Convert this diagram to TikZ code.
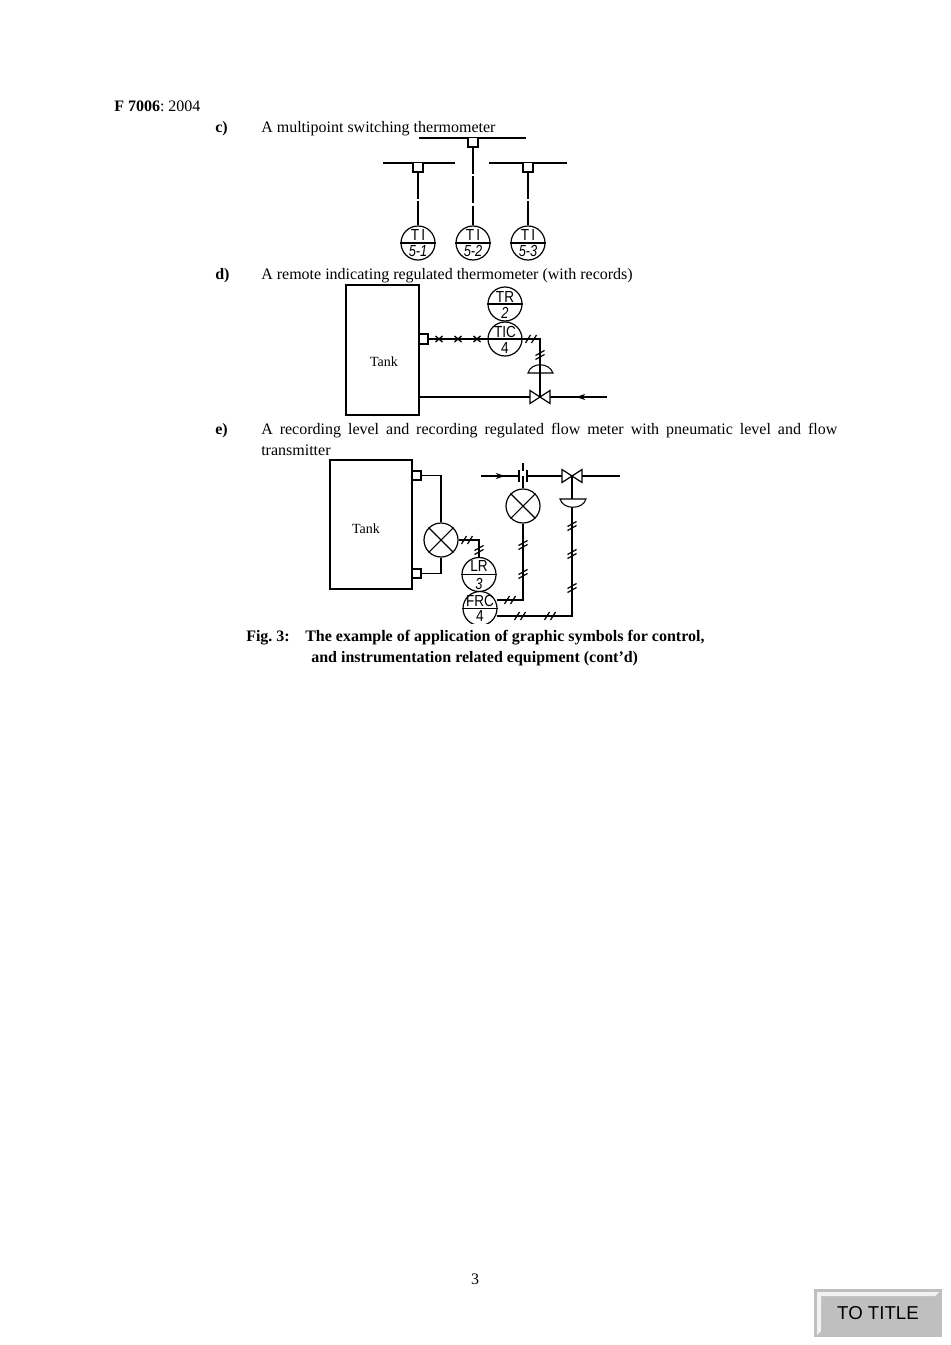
\documentclass[tikz,border=0pt]{standalone}
\usepackage{fontspec}
\setmainfont{Liberation Serif}
\newfontfamily\tagfont{Liberation Sans}
\usepackage{tkz-euclide}
\usetikzlibrary{calc,arrows.meta}
\frenchspacing

\tikzset{
  pipe/.style={line width=.8pt},
  sigline/.style={line width=.8pt,dash pattern=on 20pt off 2pt},
  inst/.style={circle,draw,line width=.9pt,minimum size=25.5pt,inner sep=0pt,fill=white},
  tagtop/.style={font=\tagfont\fontsize{12}{12}\selectfont,inner sep=0pt,xscale=.85},
  tagnum/.style={font=\tagfont\itshape\fontsize{12}{12}\selectfont,inner sep=0pt,xscale=.8},
  txt/.style={anchor=base west,inner sep=0pt,font=\fontsize{12}{15.75}\selectfont},
  pics/dslash/.style={code={
    \draw[line width=.9pt] (-5.5,4) -- (-.5,-4);
    \draw[line width=.9pt] (.5,4) -- (5.5,-4);}},
  pics/vslash/.style={code={
    \draw[line width=.9pt] (-4.5,.5) -- (4.5,-4.5);
    \draw[line width=.9pt] (-4.5,4.5) -- (4.5,-.5);}},
  pics/xmark/.style={code={
    \draw[line width=1pt] (-3.5,-3) -- (3.5,3) (-3.5,3) -- (3.5,-3);}},
  pics/valve/.style={code={
    \draw[line width=.9pt,fill=white] (-10,-6.5) -- (10,6.5) -- (10,-6.5) -- (-10,6.5) -- cycle;}}
}

\begin{document}
\begin{tikzpicture}[x=.75pt,y=-.75pt]
\useasboundingbox (0,0) rectangle (950,1345);

% points of c)
\tkzDefPoint(419,138){Ca} \tkzDefPoint(526,138){Cb}
\tkzDefPoint(383,163){Cc} \tkzDefPoint(455,163){Cd}
\tkzDefPoint(489,163){Ce} \tkzDefPoint(567,163){Cf}

\draw[pipe] (Ca) -- (Cb);
\draw[pipe] (Cc) -- (Cd);
\draw[pipe] (Ce) -- (Cf);

\foreach \nm/\xs/\ys/\lbl in {TIa/418/163/5-1,TIb/473/138/5-2,TIc/528/163/5-3}{
  \node[inst] (\nm) at (\xs,243) {};
  \coordinate (\nm s) at (\xs,\ys);
  \draw[pipe,fill=white] ($(\nm s)+(-5,0)$) -- ++(0,9) -- ++(10,0) -- ++(0,-9);
  \draw[sigline] ($(\nm s)+(0,9)$) -- (\nm.north);
  \draw[pipe] (\nm.west) -- (\nm.east);
  \node[tagtop] at ($(\nm)+(0,-8)$) {T\,I};
  \node[tagnum] at ($(\nm)+(0,8)$) {\lbl};
}

% points of d)
\tkzDefPoint(346,285){Da} \tkzDefPoint(419,415){Db}
\tkzDefPoint(428,339){Dc} \tkzDefPoint(540,339){Dd}
\tkzDefPoint(540,373){De} \tkzDefPoint(540,397){Df}
\tkzDefPoint(419,397){Dg} \tkzDefPoint(607,397){Dh}
\tkzDefPoint(576,397){Di}

\draw[pipe] (Da) rectangle (Db);
\node (tankd) at (384,362) [font=\fontsize{10.5}{12}\selectfont] {Tank};
\draw[pipe] (419,334) rectangle (428,344);
\draw[pipe] (Dc) -- (Dd) -- (De) -- (Df);
\draw[pipe] (Dg) -- (Df) -- (Dh);
\draw[pipe,-{Stealth[length=7pt,width=4.5pt]}] (Dh) -- (Di);

\draw[pipe] (528,373) .. controls (531,362) and (549,362) .. (553,373) -- cycle;
\node[inst] (TR) at (505,304) {};
\node[inst] (TIC) at (505,339) {};
\draw[pipe] (TR.west) -- (TR.east);
\draw[pipe] (TIC.west) -- (TIC.east);
\node[tagtop] (TRt) at (505,296.5) {TR};
\node[tagnum] (TRn) at (505,313) {2};
\node[tagtop] (TICt) at (505,331.5) {TIC};
\node[tagtop] (TICn) at (505,348) {4};

\foreach \px in {439,458,477}
  \path (\px,339) pic {xmark};
\path (531,339) pic {dslash};
\path (540,355) pic {vslash};
\path (Df) pic {valve};

% points of e)
\tkzDefPoint(330,460){Ea} \tkzDefPoint(412,589){Eb}
\tkzDefPoint(421,475.5){Ec} \tkzDefPoint(441,475.5){Ed}
\tkzDefPoint(421,573.5){Ee} \tkzDefPoint(441,573.5){Ef}
\tkzDefPoint(479,540){Eg}
\tkzDefPoint(523,600){Eh} \tkzDefPoint(572,616){Ei}
\tkzDefPoint(572,476){Ej}
\tkzDefPoint(481,476){Ek} \tkzDefPoint(519,476){El}
\tkzDefPoint(527,476){Em} \tkzDefPoint(620,476){En}
\tkzDefPoint(505,476){Eo}

\draw[pipe] (Ea) rectangle (Eb);
\node (tanke) at (366,529) [font=\fontsize{10.5}{12}\selectfont] {Tank};
\draw[pipe] (412,471) rectangle (421,480);
\draw[pipe] (412,569) rectangle (421,578);

\node[inst] (XL) at (441,540) {};
\node[inst] (XF) at (523,506) {};
\foreach \nm in {XL,XF}
  \draw[pipe] (\nm.north west) -- (\nm.south east) (\nm.north east) -- (\nm.south west);
\draw[pipe] (Ec) -- (Ed) -- (XL.north);
\draw[pipe] (Ee) -- (Ef) -- (XL.south);

\node[inst] (LR) at (479,574.5) {};
\begin{scope}
\clip (455,590) rectangle (505,623.5);
\node[inst] (FRC) at (480,608.5) {};
\end{scope}
\draw[pipe] (LR.west) -- (LR.east);
\draw[pipe] (FRC.west) -- (FRC.east);
\node[tagtop] (LRt) at (479,566) {LR};
\node[tagnum] (LRn) at (479,583.5) {3};
\node[tagtop] (FRCt) at (480,600.5) {FRC};
\node[tagtop] (FRCn) at (480,616) {4};

\draw[pipe] (XL.east) -- (Eg) -- (LR.north);
\draw[pipe] (497,600) -- (Eh) -- (XF.south);
\draw[pipe] (497,616) -- (Ei) -- (Ej);

\draw[pipe,-{Stealth[length=7pt,width=4.5pt]}] (Ek) -- (Eo);
\draw[pipe] (Ek) -- (El);
\draw[pipe] (Em) -- (En);
\draw[pipe] (519,470) -- (519,482);
\draw[pipe] (527,470) -- (527,482);
\draw[pipe] (523,463) -- (523,471) (523,476) -- (XF.north);
\draw[pipe,fill=white] (560,499) .. controls (563,510) and (583,510) .. (586,499) -- cycle;

\foreach \px/\py in {467/540,510/600,520/616,550/616}
  \path (\px,\py) pic {dslash};
\foreach \px/\py in {479/550,523/574,523/545,572/588,572/554,572/526}
  \path (\px,\py) pic {vslash};
\path (Ej) pic {valve};

% page text
\node[txt] (hdr) at (114,111) {\textbf{F 7006}: 2004};
\node[txt] (lc) at (215,132.5) {\textbf{c)}};
\node[txt] (tc) at (261,132.5) {A multipoint switching thermometer};
\node[txt] (ld) at (215,279) {\textbf{d)}};
\node[txt] (td) at (261,279) {A remote indicating regulated thermometer (with records)};
\node[txt] (le) at (215,434) {\textbf{e)}};
\node[txt,text width=432pt,align=justify] (te) at (261,434)
  {A recording level and recording regulated flow meter with pneumatic level and flow \mbox{transmitter}};
\node[txt] (fg) at (246,641) {\textbf{Fig. 3:}};
\node[txt] (fa) at (305,641) {\textbf{The example of application of graphic symbols for control,}};
\node[txt] (fb) at (311,662) {\textbf{and instrumentation related equipment (cont’d)}};
\node[font=\fontsize{12}{14}\selectfont] (pg) at (475,1279) {3};

% button
\fill[black!25] (814,1289) rectangle (942,1337);
\fill[black!5] (817,1292) -- (939,1292) -- (935,1296) -- (821,1296) -- (821,1331) -- (817,1335) -- cycle;
\node[font=\tagfont\fontsize{14}{16}\selectfont,inner sep=0pt] (totitle) at (878,1313) {TO TITLE};
\end{tikzpicture}
\end{document}
